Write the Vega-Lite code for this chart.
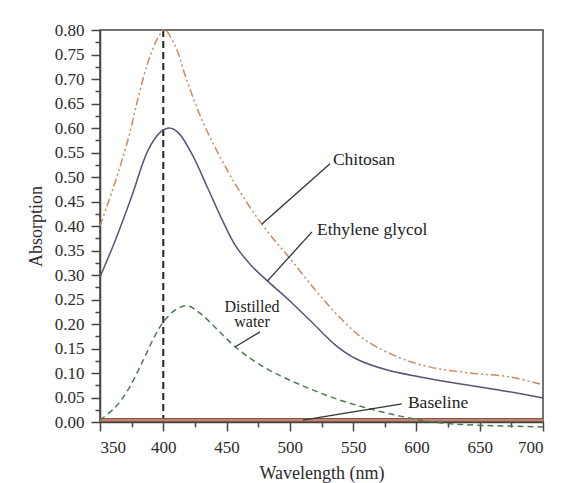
{
  "$schema": "https://vega.github.io/schema/vega-lite/v6.json",
  "width": 443,
  "height": 392,
  "autosize": {"type": "none"},
  "padding": {"left": 100, "top": 30, "right": 32, "bottom": 61},
  "background": "white",
  "config": {
    "view": {"stroke": "#444", "strokeWidth": 1.5},
    "font": "Liberation Serif",
    "axis": {"domainColor": "#444", "domainWidth": 1.5, "tickColor": "#444", "tickWidth": 1.5, "labelFont": "Liberation Serif", "labelFontSize": 17, "labelColor": "#2a2a2a", "titleFont": "Liberation Serif", "titleFontSize": 18, "titleFontWeight": "normal", "titleColor": "#2a2a2a", "grid": false, "labelOverlap": false}
  },
  "datasets": {
    "curves": [
      {"series": "Chitosan", "wl": 350, "a": 0.400},
      {"series": "Chitosan", "wl": 362, "a": 0.490},
      {"series": "Chitosan", "wl": 372, "a": 0.575},
      {"series": "Chitosan", "wl": 380, "a": 0.660},
      {"series": "Chitosan", "wl": 388, "a": 0.735},
      {"series": "Chitosan", "wl": 396, "a": 0.785},
      {"series": "Chitosan", "wl": 401, "a": 0.800},
      {"series": "Chitosan", "wl": 409, "a": 0.770},
      {"series": "Chitosan", "wl": 419, "a": 0.694},
      {"series": "Chitosan", "wl": 430, "a": 0.620},
      {"series": "Chitosan", "wl": 443, "a": 0.550},
      {"series": "Chitosan", "wl": 457, "a": 0.485},
      {"series": "Chitosan", "wl": 472, "a": 0.425},
      {"series": "Chitosan", "wl": 485, "a": 0.380},
      {"series": "Chitosan", "wl": 500, "a": 0.334},
      {"series": "Chitosan", "wl": 518, "a": 0.276},
      {"series": "Chitosan", "wl": 537, "a": 0.220},
      {"series": "Chitosan", "wl": 558, "a": 0.170},
      {"series": "Chitosan", "wl": 585, "a": 0.133},
      {"series": "Chitosan", "wl": 611, "a": 0.112},
      {"series": "Chitosan", "wl": 642, "a": 0.100},
      {"series": "Chitosan", "wl": 674, "a": 0.092},
      {"series": "Chitosan", "wl": 700, "a": 0.076},
      {"series": "Ethylene glycol", "wl": 350, "a": 0.296},
      {"series": "Ethylene glycol", "wl": 362, "a": 0.370},
      {"series": "Ethylene glycol", "wl": 375, "a": 0.460},
      {"series": "Ethylene glycol", "wl": 388, "a": 0.555},
      {"series": "Ethylene glycol", "wl": 398, "a": 0.592},
      {"series": "Ethylene glycol", "wl": 405, "a": 0.600},
      {"series": "Ethylene glycol", "wl": 412, "a": 0.590},
      {"series": "Ethylene glycol", "wl": 423, "a": 0.545},
      {"series": "Ethylene glycol", "wl": 435, "a": 0.478},
      {"series": "Ethylene glycol", "wl": 447, "a": 0.410},
      {"series": "Ethylene glycol", "wl": 457, "a": 0.360},
      {"series": "Ethylene glycol", "wl": 470, "a": 0.318},
      {"series": "Ethylene glycol", "wl": 484, "a": 0.284},
      {"series": "Ethylene glycol", "wl": 500, "a": 0.247},
      {"series": "Ethylene glycol", "wl": 518, "a": 0.202},
      {"series": "Ethylene glycol", "wl": 537, "a": 0.155},
      {"series": "Ethylene glycol", "wl": 553, "a": 0.128},
      {"series": "Ethylene glycol", "wl": 577, "a": 0.106},
      {"series": "Ethylene glycol", "wl": 603, "a": 0.092},
      {"series": "Ethylene glycol", "wl": 629, "a": 0.080},
      {"series": "Ethylene glycol", "wl": 668, "a": 0.064},
      {"series": "Ethylene glycol", "wl": 700, "a": 0.049},
      {"series": "Distilled water", "wl": 350, "a": 0.004},
      {"series": "Distilled water", "wl": 362, "a": 0.030},
      {"series": "Distilled water", "wl": 372, "a": 0.065},
      {"series": "Distilled water", "wl": 383, "a": 0.120},
      {"series": "Distilled water", "wl": 393, "a": 0.174},
      {"series": "Distilled water", "wl": 400, "a": 0.204},
      {"series": "Distilled water", "wl": 409, "a": 0.228},
      {"series": "Distilled water", "wl": 419, "a": 0.237},
      {"series": "Distilled water", "wl": 430, "a": 0.220},
      {"series": "Distilled water", "wl": 443, "a": 0.188},
      {"series": "Distilled water", "wl": 457, "a": 0.153},
      {"series": "Distilled water", "wl": 472, "a": 0.124},
      {"series": "Distilled water", "wl": 488, "a": 0.100},
      {"series": "Distilled water", "wl": 510, "a": 0.074},
      {"series": "Distilled water", "wl": 537, "a": 0.047},
      {"series": "Distilled water", "wl": 563, "a": 0.027},
      {"series": "Distilled water", "wl": 589, "a": 0.011},
      {"series": "Distilled water", "wl": 610, "a": 0.001},
      {"series": "Distilled water", "wl": 635, "a": -0.005},
      {"series": "Distilled water", "wl": 668, "a": -0.008},
      {"series": "Distilled water", "wl": 700, "a": -0.010},
      {"series": "Baseline", "wl": 350, "a": 0.004},
      {"series": "Baseline", "wl": 700, "a": 0.004}
    ],
    "marker": [{"wl": 400, "a": 0, "a2": 0.8}],
    "leaders": [
      {"name": "Chitosan", "wl": 478, "a": 0.404, "wl2": 531.7, "a2": 0.527},
      {"name": "Ethylene glycol", "wl": 482, "a": 0.287, "wl2": 517.5, "a2": 0.388},
      {"name": "Distilled water", "wl": 456.6, "a": 0.153, "wl2": 476.4, "a2": 0.184},
      {"name": "Baseline", "wl": 510.3, "a": 0.004, "wl2": 588.5, "a2": 0.037}
    ],
    "labels": [
      {"text": "Chitosan", "wl": 534, "a": 0.535},
      {"text": "Ethylene glycol", "wl": 521.4, "a": 0.392},
      {"text": "Baseline", "wl": 593.3, "a": 0.039}
    ],
    "labels2": [
      {"text": "Distilled", "wl": 470.1, "a": 0.2357},
      {"text": "water", "wl": 470.1, "a": 0.2031}
    ]
  },
  "encoding": {
    "x": {"field": "wl", "type": "quantitative", "scale": {"domain": [350, 700], "nice": false},
      "axis": {"title": "Wavelength (nm)", "values": [350,375,400,425,450,475,500,525,550,575,600,625,650,675,700],
        "labelExpr": "datum.value % 50 == 0 ? datum.label : ''", "labelOverlap": false,
        "tickSize": {"condition": {"test": "datum.value % 50 != 0", "value": 5}, "value": 9},
        "labelPadding": 8, "titlePadding": 9}},
    "y": {"field": "a", "type": "quantitative", "scale": {"domain": [0, 0.8], "nice": false},
      "axis": {"title": "Absorption", "values": [0,0.025,0.05,0.075,0.1,0.125,0.15,0.175,0.2,0.225,0.25,0.275,0.3,0.325,0.35,0.375,0.4,0.425,0.45,0.475,0.5,0.525,0.55,0.575,0.6,0.625,0.65,0.675,0.7,0.725,0.75,0.775,0.8],
        "labelExpr": "round(datum.value*40) % 2 == 0 ? format(datum.value, '.2f') : ''", "labelOverlap": false,
        "tickSize": {"condition": {"test": "round(datum.value*40) % 2 == 1", "value": 5}, "value": 9},
        "labelPadding": 7, "titlePadding": 9}}
  },
  "layer": [
    {
      "data": {"name": "marker"},
      "mark": {"type": "rule", "color": "#222", "strokeWidth": 2, "strokeDash": [7, 4]},
      "encoding": {"y2": {"field": "a2"}}
    },
    {
      "data": {"name": "curves"},
      "transform": [{"filter": "datum.series == 'Baseline'"}],
      "mark": {"type": "line", "color": "#8a5544", "strokeWidth": 4},
      "encoding": {}
    },
    {
      "data": {"name": "curves"},
      "transform": [{"filter": "datum.series == 'Baseline'"}],
      "mark": {"type": "line", "color": "#c99a86", "strokeWidth": 1.5},
      "encoding": {}
    },
    {
      "data": {"name": "curves"},
      "transform": [{"filter": "datum.series == 'Chitosan'"}],
      "mark": {"type": "line", "color": "#c98a62", "strokeWidth": 1.5, "strokeDash": [8, 3, 2, 3, 2, 3], "interpolate": "catmull-rom"},
      "encoding": {}
    },
    {
      "data": {"name": "curves"},
      "transform": [{"filter": "datum.series == 'Ethylene glycol'"}],
      "mark": {"type": "line", "color": "#55557a", "strokeWidth": 1.5, "interpolate": "catmull-rom"},
      "encoding": {}
    },
    {
      "data": {"name": "curves"},
      "transform": [{"filter": "datum.series == 'Distilled water'"}],
      "mark": {"type": "line", "color": "#4d7a52", "strokeWidth": 1.5, "strokeDash": [6, 4], "interpolate": "catmull-rom"},
      "encoding": {}
    },
    {
      "data": {"name": "leaders"},
      "mark": {"type": "rule", "color": "#333", "strokeWidth": 1.3},
      "encoding": {"x2": {"field": "wl2"}, "y2": {"field": "a2"}}
    },
    {
      "data": {"name": "labels"},
      "mark": {"type": "text", "align": "left", "baseline": "middle", "fontSize": 17.5, "font": "Liberation Serif", "color": "#222"},
      "encoding": {"text": {"field": "text"}}
    },
    {
      "data": {"name": "labels2"},
      "mark": {"type": "text", "align": "center", "baseline": "middle", "fontSize": 16, "font": "Liberation Serif", "color": "#222"},
      "encoding": {"text": {"field": "text"}}
    }
  ]
}
